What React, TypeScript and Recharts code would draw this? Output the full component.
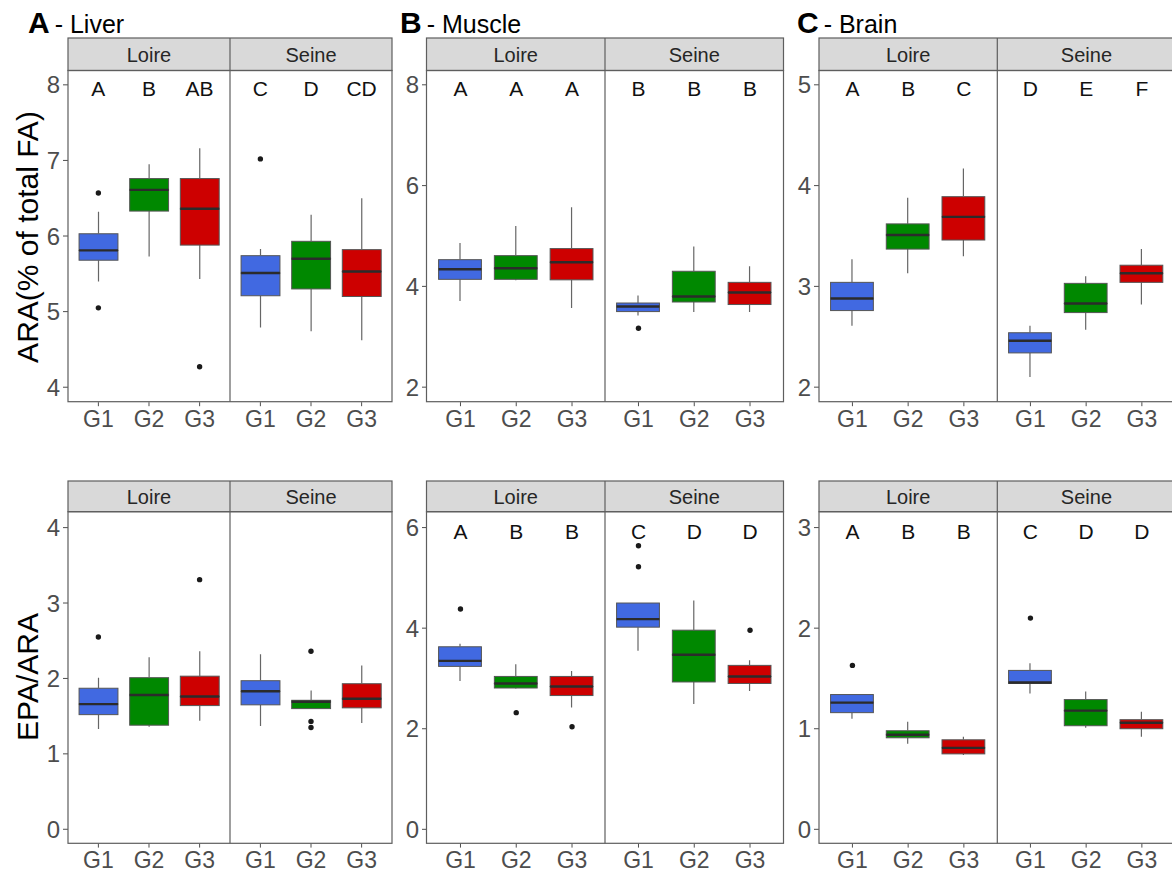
import React from 'react';
import { ComposedChart, Bar, Scatter, XAxis, YAxis } from 'recharts';

// ---------- data ----------
const groups = ['G1', 'G2', 'G3'];
const sites = ['Loire', 'Seine'];
const groupColors = ['#4169E1', '#008800', '#CD0000'];

// five-number summaries [min, q1, median, q3, max] for G1..G3
const araLiverLoire = [[5.40, 5.68, 5.81, 6.03, 6.32], [5.73, 6.33, 6.61, 6.76, 6.95], [5.43, 5.88, 6.36, 6.76, 7.16]];
const araLiverSeine = [[4.79, 5.21, 5.51, 5.74, 5.83], [4.74, 5.30, 5.70, 5.93, 6.28], [4.62, 5.20, 5.53, 5.82, 6.50]];
const araLiverOutLoire = [[6.57, 5.05], [], [4.27]];
const araLiverOutSeine = [[7.02], [], []];
const araLiverLetters = [['A', 'B', 'AB'], ['C', 'D', 'CD']];

const araMuscleLoire = [[3.71, 4.14, 4.34, 4.53, 4.86], [4.12, 4.14, 4.36, 4.61, 5.20], [3.57, 4.13, 4.48, 4.75, 5.57]];
const araMuscleSeine = [[3.42, 3.50, 3.60, 3.67, 3.82], [3.49, 3.69, 3.80, 4.30, 4.79], [3.49, 3.64, 3.88, 4.08, 4.40]];
const araMuscleOutLoire = [[], [], []];
const araMuscleOutSeine = [[3.17], [], []];
const araMuscleLetters = [['A', 'A', 'A'], ['B', 'B', 'B']];

const araBrainLoire = [[2.61, 2.76, 2.88, 3.04, 3.27], [3.13, 3.37, 3.51, 3.62, 3.88], [3.30, 3.46, 3.69, 3.89, 4.17]];
const araBrainSeine = [[2.10, 2.34, 2.46, 2.54, 2.61], [2.57, 2.74, 2.83, 3.03, 3.10], [2.82, 3.04, 3.13, 3.21, 3.37]];
const araBrainOutLoire = [[], [], []];
const araBrainOutSeine = [[], [], []];
const araBrainLetters = [['A', 'B', 'C'], ['D', 'E', 'F']];

const epaLiverLoire = [[1.33, 1.52, 1.66, 1.87, 2.01], [1.36, 1.38, 1.78, 2.01, 2.28], [1.44, 1.64, 1.76, 2.03, 2.36]];
const epaLiverSeine = [[1.37, 1.65, 1.83, 1.97, 2.32], [1.60, 1.60, 1.69, 1.71, 1.84], [1.41, 1.61, 1.73, 1.93, 2.17]];
const epaLiverOutLoire = [[2.55], [], [3.31]];
const epaLiverOutSeine = [[], [2.36, 1.43, 1.35], []];
const epaLiverLetters = null;

const epaMuscleLoire = [[2.95, 3.24, 3.35, 3.63, 3.69], [2.80, 2.81, 2.90, 3.04, 3.28], [2.42, 2.66, 2.84, 3.04, 3.15]];
const epaMuscleSeine = [[3.55, 4.02, 4.18, 4.50, 4.50], [2.49, 2.93, 3.47, 3.96, 4.55], [2.75, 2.90, 3.04, 3.26, 3.36]];
const epaMuscleOutLoire = [[4.38], [2.32], [2.04]];
const epaMuscleOutSeine = [[5.64, 5.22], [], [3.96]];
const epaMuscleLetters = [['A', 'B', 'B'], ['C', 'D', 'D']];

const epaBrainLoire = [[1.10, 1.16, 1.26, 1.34, 1.34], [0.85, 0.91, 0.94, 0.98, 1.07], [0.74, 0.75, 0.81, 0.89, 0.92]];
const epaBrainSeine = [[1.35, 1.45, 1.46, 1.58, 1.65], [1.01, 1.03, 1.18, 1.29, 1.37], [0.92, 1.00, 1.06, 1.09, 1.17]];
const epaBrainOutLoire = [[1.63], [], []];
const epaBrainOutSeine = [[2.10], [], []];
const epaBrainLetters = [['A', 'B', 'B'], ['C', 'D', 'D']];

const liverAraTicks = [4, 5, 6, 7, 8];
const muscleAraTicks = [2, 4, 6, 8];
const brainAraTicks = [2, 3, 4, 5];
const liverEpaTicks = [0, 1, 2, 3, 4];
const muscleEpaTicks = [0, 2, 4, 6];
const brainEpaTicks = [0, 1, 2, 3];

const panelTitles = [['A', 'Liver'], ['B', 'Muscle'], ['C', 'Brain']];
const yTitles = ['ARA(% of total FA)', 'EPA/ARA'];

// ---------- layout ----------
const cols = [
  { left: 68, mid: 230, right: 392, yw: 68, titleX: 28 },
  { left: 426.5, mid: 605, right: 783.5, yw: 40, titleX: 400 },
  { left: 819, mid: 997.3, right: 1175.6, yw: 40, titleX: 797 },
];
const rows = [
  { stripTop: 38, plotTop: 70.5, plotBottom: 401.7, titleY: 33 },
  { stripTop: 481, plotTop: 511.7, plotBottom: 843.3, titleY: 0 },
];

const panels = [
  { row: 0, col: 0, stats: [araLiverLoire, araLiverSeine], outs: [araLiverOutLoire, araLiverOutSeine], letters: araLiverLetters, domain: [3.802, 8.183], ticks: liverAraTicks },
  { row: 0, col: 1, stats: [araMuscleLoire, araMuscleSeine], outs: [araMuscleOutLoire, araMuscleOutSeine], letters: araMuscleLetters, domain: [1.702, 8.274], ticks: muscleAraTicks },
  { row: 0, col: 2, stats: [araBrainLoire, araBrainSeine], outs: [araBrainOutLoire, araBrainOutSeine], letters: araBrainLetters, domain: [1.851, 5.137], ticks: brainAraTicks },
  { row: 1, col: 0, stats: [epaLiverLoire, epaLiverSeine], outs: [epaLiverOutLoire, epaLiverOutSeine], letters: epaLiverLetters, domain: [-0.19, 4.207], ticks: liverEpaTicks },
  { row: 1, col: 1, stats: [epaMuscleLoire, epaMuscleSeine], outs: [epaMuscleOutLoire, epaMuscleOutSeine], letters: epaMuscleLetters, domain: [-0.284, 6.31], ticks: muscleEpaTicks },
  { row: 1, col: 2, stats: [epaBrainLoire, epaBrainSeine], outs: [epaBrainOutLoire, epaBrainOutSeine], letters: epaBrainLetters, domain: [-0.142, 3.155], ticks: brainEpaTicks },
];

const FONT = '"Liberation Sans", Arial, Helvetica, sans-serif';
const BORDER = '#5e5e5e';
const TICK_COLOR = '#4d4d4d';

function buildRows(stats: number[][], outs: number[][], letters: string[] | null, letterY: number) {
  return groups.map((g, i) => {
    const [mn, q1, md, q3, mx] = stats[i];
    const o = outs[i];
    return {
      g,
      base: mn,
      w1: q1 - mn,
      b1: md - q1,
      b2: q3 - md,
      w2: mx - q3,
      o1: o[0] ?? null,
      o2: o[1] ?? null,
      o3: o[2] ?? null,
      ly: letters ? letterY : null,
      letter: letters ? letters[i] : '',
    };
  });
}

const WhiskerShape = (props: any) => {
  const { x, y, width, height } = props;
  if (![x, y, width, height].every((v) => typeof v === 'number' && isFinite(v))) return <g />;
  const cx = x + width / 2;
  const y0 = Math.min(y, y + height);
  const y1 = Math.max(y, y + height);
  return <line x1={cx} x2={cx} y1={y0} y2={y1} stroke="#666" strokeWidth={1.2} />;
};

const makeBoxShape = (withMedian: boolean) => (props: any) => {
  const { x, y, width, height, payload } = props;
  if (![x, y, width, height].every((v) => typeof v === 'number' && isFinite(v))) return <g />;
  const fill = groupColors[groups.indexOf(payload.g)];
  const y0 = Math.min(y, y + height);
  const h = Math.abs(height);
  return (
    <g>
      <rect x={x} y={y0} width={width} height={h} fill={fill} stroke="#555" strokeWidth={1} />
      {withMedian && (
        <line x1={x} x2={x + width} y1={y + height} y2={y + height} stroke="#2b2b2b" strokeWidth={2.4} />
      )}
    </g>
  );
};
const LowerBox = makeBoxShape(false);
const UpperBox = makeBoxShape(true);

const makeOutlierShape = (key: string) => (props: any) => {
  const { cx, cy, payload } = props;
  if (!payload || payload[key] == null) return <g />;
  if (typeof cx !== 'number' || typeof cy !== 'number' || !isFinite(cx) || !isFinite(cy)) return <g />;
  return <circle cx={cx} cy={cy} r={2.7} fill="#1a1a1a" />;
};
const Out1 = makeOutlierShape('o1');
const Out2 = makeOutlierShape('o2');
const Out3 = makeOutlierShape('o3');

const LetterShape = (props: any) => {
  const { cx, cy, payload } = props;
  if (!payload || payload.ly == null || !payload.letter) return <g />;
  if (typeof cx !== 'number' || typeof cy !== 'number' || !isFinite(cx) || !isFinite(cy)) return <g />;
  return (
    <text x={cx} y={cy + 4} textAnchor="middle" dominantBaseline="central" fontSize={21} fill="#111" fontFamily={FONT}>
      {payload.letter}
    </text>
  );
};

function Facet({ panel, siteIdx }: { panel: any; siteIdx: number }) {
  const col = cols[panel.col];
  const row = rows[panel.row];
  const isLeft = siteIdx === 0;
  const fLeft = isLeft ? col.left : col.mid;
  const fRight = isLeft ? col.mid : col.right;
  const fw = fRight - fLeft;
  const yw = isLeft ? col.yw : 0;
  const plotH = row.plotBottom - row.plotTop;
  const xh = 40;
  const pad = fw / 32;
  const barSize = fw * 0.24;
  const letterY = panel.ticks[panel.ticks.length - 1];
  const data = buildRows(panel.stats[siteIdx], panel.outs[siteIdx], panel.letters ? panel.letters[siteIdx] : null, letterY);
  return (
    <div style={{ position: 'absolute', left: fLeft - yw, top: row.plotTop }}>
      <ComposedChart width={fw + yw} height={plotH + xh} data={data} margin={{ top: 0, right: 0, bottom: 0, left: 0 }} barSize={barSize}>
        <XAxis
          dataKey="g"
          type="category"
          padding={{ left: pad, right: pad }}
          axisLine={false}
          tickLine={{ stroke: TICK_COLOR }}
          tickSize={4}
          tickMargin={4}
          height={xh}
          interval={0}
          tick={{ fill: TICK_COLOR, fontSize: 23, fontFamily: FONT }}
        />
        <YAxis
          type="number"
          domain={panel.domain}
          ticks={panel.ticks}
          allowDataOverflow
          hide={!isLeft}
          width={yw}
          axisLine={false}
          tickLine={{ stroke: TICK_COLOR }}
          tickSize={5}
          tickMargin={3}
          interval={0}
          tick={{ fill: TICK_COLOR, fontSize: 24, fontFamily: FONT }}
        />
        <Bar dataKey="base" stackId="s" fill="none" isAnimationActive={false} />
        <Bar dataKey="w1" stackId="s" shape={WhiskerShape} isAnimationActive={false} />
        <Bar dataKey="b1" stackId="s" shape={LowerBox} isAnimationActive={false} />
        <Bar dataKey="b2" stackId="s" shape={UpperBox} isAnimationActive={false} />
        <Bar dataKey="w2" stackId="s" shape={WhiskerShape} isAnimationActive={false} />
        <Scatter dataKey="o1" shape={Out1} isAnimationActive={false} />
        <Scatter dataKey="o2" shape={Out2} isAnimationActive={false} />
        <Scatter dataKey="o3" shape={Out3} isAnimationActive={false} />
        <Scatter dataKey="ly" shape={LetterShape} isAnimationActive={false} />
      </ComposedChart>
    </div>
  );
}

function Overlay() {
  return (
    <svg width={1172} height={874} style={{ position: 'absolute', left: 0, top: 0, pointerEvents: 'none' }} fontFamily={FONT}>
      {panels.map((p, i) => {
        const c = cols[p.col];
        const r = rows[p.row];
        return (
          <g key={i}>
            <rect x={c.left} y={r.stripTop} width={c.right - c.left} height={r.plotTop - r.stripTop} fill="#D9D9D9" stroke={BORDER} strokeWidth={1.2} />
            <rect x={c.left} y={r.plotTop} width={c.right - c.left} height={r.plotBottom - r.plotTop} fill="none" stroke={BORDER} strokeWidth={1.2} />
            <line x1={c.mid} x2={c.mid} y1={r.stripTop} y2={r.plotBottom} stroke={BORDER} strokeWidth={1.2} />
            {sites.map((s, k) => (
              <text
                key={s}
                x={k === 0 ? (c.left + c.mid) / 2 : (c.mid + c.right) / 2}
                y={r.stripTop + (r.plotTop - r.stripTop) / 2 + 1}
                textAnchor="middle"
                dominantBaseline="central"
                fontSize={20}
                fill="#262626"
              >
                {s}
              </text>
            ))}
          </g>
        );
      })}
      {panelTitles.map(([letter, name], i) => (
        <text key={letter} x={cols[i].titleX} y={rows[0].titleY} fill="#000">
          <tspan fontWeight="bold" fontSize={30}>{letter}</tspan>
          <tspan fontSize={25} dx={5}>{'- ' + name}</tspan>
        </text>
      ))}
      <text transform={`translate(27, 237) rotate(-90)`} textAnchor="middle" dominantBaseline="central" fontSize={30} fill="#000">
        {yTitles[0]}
      </text>
      <text transform={`translate(27, 677) rotate(-90)`} textAnchor="middle" dominantBaseline="central" fontSize={30} fill="#000">
        {yTitles[1]}
      </text>
    </svg>
  );
}

export default function App() {
  return (
    <div style={{ position: 'absolute', left: 0, top: 0, width: 1172, height: 874, overflow: 'hidden', background: '#fff', fontFamily: FONT }}>
      {panels.map((p, i) => (
        <React.Fragment key={i}>
          <Facet panel={p} siteIdx={0} />
          <Facet panel={p} siteIdx={1} />
        </React.Fragment>
      ))}
      <Overlay />
    </div>
  );
}
